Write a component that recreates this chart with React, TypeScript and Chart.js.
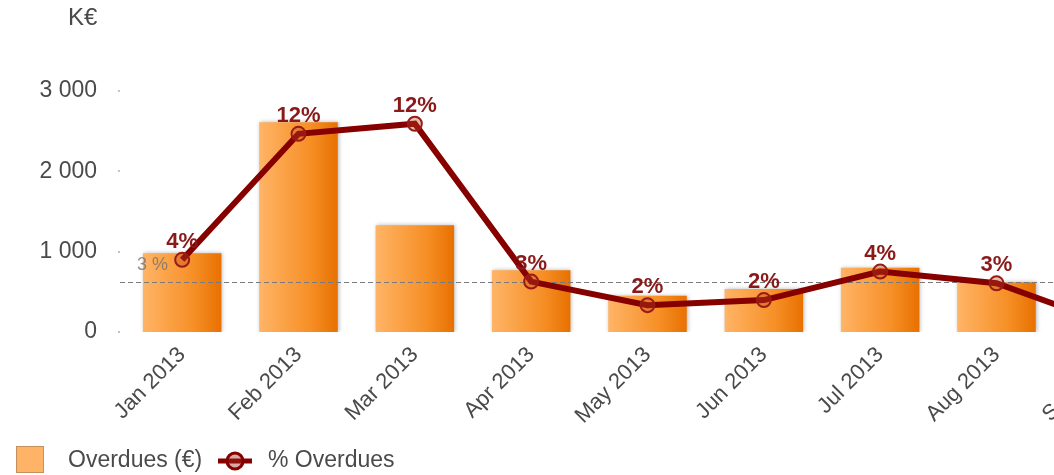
import React, { useEffect, useRef } from 'react';
import { Chart, registerables } from 'chart.js';

Chart.register(...registerables);

const months = ['Jan 2013', 'Feb 2013', 'Mar 2013', 'Apr 2013', 'May 2013', 'Jun 2013', 'Jul 2013', 'Aug 2013', 'Sep 2013'];
const overdues = [980, 2610, 1330, 770, 450, 535, 800, 620, 250];
const overduePct = [4.3, 11.8, 12.4, 3.0, 1.6, 1.9, 3.6, 2.9, 0.4];
const yTickValues = [0, 1000, 2000, 3000];
const averagePct = 3;
const unitLabel = 'K€';
const seriesNames = ['Overdues (€)', '% Overdues'];

const FONT = "'Liberation Sans', Arial, sans-serif";
const LINE_RED = '#860000';
const TEXT_GREY = '#4a4a4a';
const BAR_FRACTION = 0.675;

function fmtK(v: number): string {
  if (v === 0) return '0';
  const th = Math.floor(v / 1000);
  const rest = String(Math.round(v % 1000)).padStart(3, '0');
  return th + ' ' + rest;
}

const overlayPlugin = {
  id: 'overlay',
  beforeDatasetDraw(chart: any, args: any) {
    if (args.meta.type === 'bar') {
      const ctx = chart.ctx;
      ctx.save();
      ctx.shadowColor = 'rgba(0,0,0,0.28)';
      ctx.shadowBlur = 4;
      ctx.shadowOffsetX = 1;
      ctx.shadowOffsetY = 0;
    }
  },
  afterDatasetDraw(chart: any, args: any) {
    const ctx = chart.ctx;
    const area = chart.chartArea;
    if (args.meta.type === 'bar') {
      ctx.restore();
      const y1 = chart.scales.y1;
      const yy = Math.round(y1.getPixelForValue(averagePct)) + 0.5;
      ctx.save();
      ctx.strokeStyle = '#7a7a7a';
      ctx.lineWidth = 1;
      ctx.setLineDash([5, 3]);
      ctx.beginPath();
      ctx.moveTo(area.left - 4, yy);
      ctx.lineTo(area.right, yy);
      ctx.stroke();
      ctx.setLineDash([]);
      ctx.fillStyle = 'rgba(110,110,110,0.75)';
      ctx.font = '18px ' + FONT;
      ctx.textAlign = 'left';
      ctx.textBaseline = 'middle';
      ctx.fillText(averagePct + ' %', area.left + 13, yy - 17);
      ctx.restore();
    }
    if (args.meta.type === 'line') {
      ctx.save();
      ctx.fillStyle = '#8a1a1a';
      ctx.font = 'bold 22px ' + FONT;
      ctx.textAlign = 'center';
      ctx.textBaseline = 'middle';
      args.meta.data.forEach((el: any, i: number) => {
        ctx.fillText(Math.round(overduePct[i]) + '%', el.x, el.y - 18);
      });
      ctx.restore();
    }
  },
  afterDraw(chart: any) {
    const ctx = chart.ctx;
    const area = chart.chartArea;
    const ys = chart.scales.y;
    ctx.save();
    ctx.fillStyle = TEXT_GREY;
    ctx.font = '24px ' + FONT;
    ctx.textAlign = 'left';
    ctx.textBaseline = 'middle';
    ctx.fillText(unitLabel, 68, 18);
    ctx.fillStyle = '#c4c4c4';
    yTickValues.forEach((v) => {
      const y = ys.getPixelForValue(v);
      ctx.fillRect(area.left - 6, Math.round(y) - 1, 2, 2);
    });
    const ly = 461;
    ctx.fillStyle = '#FFB366';
    ctx.fillRect(16, 446, 28, 27);
    ctx.strokeStyle = '#c49060';
    ctx.lineWidth = 1;
    ctx.strokeRect(16.5, 446.5, 27, 26);
    ctx.fillStyle = TEXT_GREY;
    ctx.font = '23px ' + FONT;
    ctx.textBaseline = 'middle';
    ctx.fillText(seriesNames[0], 68, ly);
    ctx.strokeStyle = LINE_RED;
    ctx.lineWidth = 5;
    ctx.beginPath();
    ctx.moveTo(218, ly);
    ctx.lineTo(252, ly);
    ctx.stroke();
    ctx.beginPath();
    ctx.arc(235, ly, 8, 0, Math.PI * 2);
    ctx.lineWidth = 3;
    ctx.fillStyle = 'rgba(160,40,30,0.4)';
    ctx.fill();
    ctx.stroke();
    ctx.fillStyle = TEXT_GREY;
    ctx.fillText(seriesNames[1], 268, ly);
    ctx.restore();
  },
};

export default function App() {
  const ref = useRef<HTMLCanvasElement | null>(null);

  useEffect(() => {
    if (!ref.current) return;
    const chart = new Chart(ref.current, {
      type: 'bar',
      data: {
        labels: months,
        datasets: [
          {
            type: 'bar',
            label: seriesNames[0],
            data: overdues,
            yAxisID: 'y',
            order: 2,
            barPercentage: BAR_FRACTION,
            categoryPercentage: 1,
            borderWidth: 0,
            backgroundColor: (c: any) => {
              const chart = c.chart;
              const xs = chart.scales && chart.scales.x;
              if (c.type !== 'data' || !xs) return '#F7941D';
              const cx = xs.getPixelForValue(c.dataIndex);
              const half = (xs.width / months.length) * BAR_FRACTION / 2;
              if (!Number.isFinite(cx) || !Number.isFinite(half) || half <= 0) return '#F7941D';
              const g = chart.ctx.createLinearGradient(cx - half, 0, cx + half, 0);
              g.addColorStop(0, '#FFB466');
              g.addColorStop(0.65, '#F68F26');
              g.addColorStop(1, '#E87000');
              return g;
            },
          } as any,
          {
            type: 'line',
            label: seriesNames[1],
            data: overduePct,
            yAxisID: 'y1',
            order: 1,
            borderColor: LINE_RED,
            borderWidth: 6,
            tension: 0,
            pointRadius: 7,
            pointBorderWidth: 2,
            pointBorderColor: '#9a1a14',
            pointBackgroundColor: 'rgba(190,70,40,0.35)',
          } as any,
        ],
      },
      options: {
        animation: false,
        responsive: false,
        devicePixelRatio: 1,
        layout: { padding: { top: 91, left: 0, right: 1, bottom: 0 } },
        plugins: {
          legend: { display: false },
          tooltip: { enabled: false },
          title: { display: false },
        },
        scales: {
          x: {
            grid: { display: false, drawTicks: false },
            border: { display: false },
            ticks: {
              autoSkip: false,
              minRotation: 45,
              maxRotation: 45,
              padding: 10,
              color: TEXT_GREY,
              font: { family: FONT, size: 22 },
            },
            afterFit: (s: any) => {
              s.height = 143;
            },
          },
          y: {
            min: 0,
            max: 3000,
            grid: { display: false, drawTicks: false },
            border: { display: false },
            afterBuildTicks: (s: any) => {
              s.ticks = yTickValues.map((v) => ({ value: v }));
            },
            ticks: {
              padding: 27,
              color: TEXT_GREY,
              font: { family: FONT, size: 23 },
              callback: (v: any) => fmtK(Number(v)),
            },
            afterFit: (s: any) => {
              s.width = 124;
            },
          },
          y1: {
            display: false,
            min: 0,
            max: 14.35,
          },
        },
      },
      plugins: [overlayPlugin],
    });
    return () => chart.destroy();
  }, []);

  return (
    <div style={{ position: 'fixed', left: 0, top: 0, width: 1054, height: 475, overflow: 'hidden', background: '#fff' }}>
      <canvas ref={ref} width={1180} height={475} style={{ display: 'block' }} />
    </div>
  );
}
